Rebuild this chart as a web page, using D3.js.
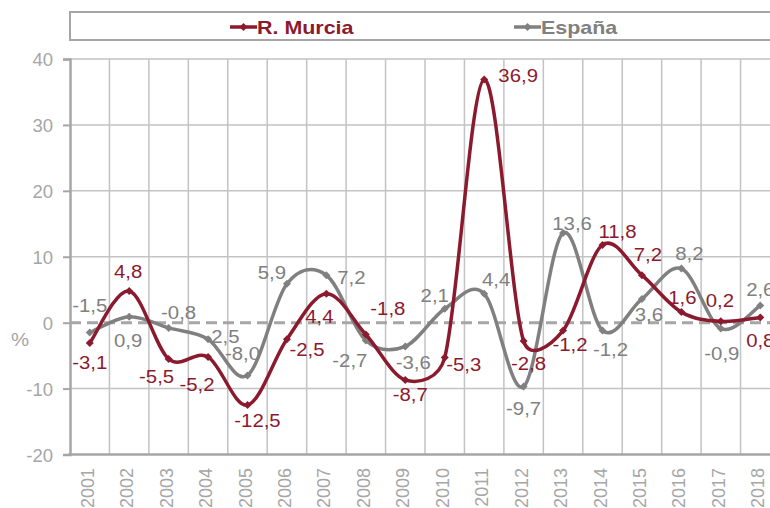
<!DOCTYPE html>
<html>
<head>
<meta charset="utf-8">
<script src="https://cdn.jsdelivr.net/npm/d3@7"></script>
<style>
  html, body { margin: 0; padding: 0; background: #fff; }
  svg { display: block; }
  text { font-family: "Liberation Sans", Arial, sans-serif; }
</style>
</head>
<body>
<svg id="chart" width="770" height="508"></svg>
<script>
// ---- data ----
const years = ["2001","2002","2003","2004","2005","2006","2007","2008","2009","2010","2011","2012","2013","2014","2015","2016","2017","2018"];
const murcia = [-3.1, 4.8, -5.5, -5.2, -12.5, -2.5, 4.4, -1.8, -8.7, -5.3, 36.9, -2.8, -1.2, 11.8, 7.2, 1.6, 0.2, 0.8];
const espana = [-1.5, 0.9, -0.8, -2.5, -8.0, 5.9, 7.2, -2.7, -3.6, 2.1, 4.4, -9.7, 13.6, -1.2, 3.6, 8.2, -0.9, 2.6];
const yTicks = [-20, -10, 0, 10, 20, 30, 40];
const seriesNames = ["R. Murcia", "España"];

// label placement (offset of label centre from its point)
const murciaLabelOffset = [[0,19],[-1,-20],[-12,17],[-11,27],[10,15],[20,10],[-7,23],[22,-26],[5,14],[19,7],[34,-4],[5,22],[7,14],[15,-13],[6,-21],[1,-15],[-1,-21],[0,23]];
const espanaLabelOffset = [[0,-27],[-1,24],[10,-16],[14,-3],[-5,-22],[-15,-11],[25,2],[-16,20],[8,16],[-10,-13],[12,-14],[0,22],[9,-10],[8,19],[7,15],[8,-15],[1,25],[0,-16]];

// ---- styles ----
const RED = "#8C1A2E";
const GREY = "#808080";
const AXIS = "#A6A6A6";
const GRID = "#C3C3C3";
const FS = 18.5;
const SX = 1.1;

const svg = d3.select("#chart");

const x = d3.scaleBand().domain(years).range([70, 780]);
const y = d3.scaleLinear().domain([-20, 40]).range([454.5, 59]);
const cx = d => x(d) + x.bandwidth() / 2;

const fmt = v => v.toFixed(1).replace(".", ",");

// Excel-like smoothed line: Catmull-Rom (1/6) arms, each capped at half the segment length
function smoothPath(pts) {
  const p = d3.path();
  const n = pts.length;
  p.moveTo(pts[0][0], pts[0][1]);
  const dist = (a, b) => Math.hypot(b[0] - a[0], b[1] - a[1]);
  for (let i = 0; i < n - 1; i++) {
    const P0 = pts[Math.max(0, i - 1)], P1 = pts[i], P2 = pts[i + 1], P3 = pts[Math.min(n - 1, i + 2)];
    const d12 = dist(P1, P2);
    let a1 = [(P2[0] - P0[0]) / 6, (P2[1] - P0[1]) / 6];
    let a2 = [(P3[0] - P1[0]) / 6, (P3[1] - P1[1]) / 6];
    const l1 = Math.hypot(a1[0], a1[1]), l2 = Math.hypot(a2[0], a2[1]);
    if (l1 > d12 / 2) { const s = (d12 / 2) / l1; a1 = [a1[0] * s, a1[1] * s]; }
    if (l2 > d12 / 2) { const s = (d12 / 2) / l2; a2 = [a2[0] * s, a2[1] * s]; }
    p.bezierCurveTo(P1[0] + a1[0], P1[1] + a1[1], P2[0] - a2[0], P2[1] - a2[1], P2[0], P2[1]);
  }
  return p.toString();
}

// horizontal grid
svg.append("g").selectAll("line")
  .data(yTicks.filter(t => t !== 0 && t !== -20))
  .join("line")
  .attr("x1", 70).attr("x2", 780)
  .attr("y1", d => y(d)).attr("y2", d => y(d))
  .attr("stroke", GRID).attr("stroke-width", 1.5);

// vertical grid (band boundaries)
svg.append("g").selectAll("line")
  .data(years)
  .join("line")
  .attr("x1", d => x(d) + x.step())
  .attr("x2", d => x(d) + x.step())
  .attr("y1", y(40)).attr("y2", y(-20))
  .attr("stroke", GRID).attr("stroke-width", 1.5);

// zero dashed line
svg.append("line")
  .attr("x1", 70).attr("x2", 780)
  .attr("y1", y(0)).attr("y2", y(0))
  .attr("stroke", AXIS).attr("stroke-width", 3)
  .attr("stroke-dasharray", "11,6");

// y axis
const yAxis = d3.axisLeft(y).tickValues(yTicks).tickSize(7).tickPadding(10).tickFormat(d => d);
const ga = svg.append("g").attr("transform", "translate(70,0)").call(yAxis);
ga.select(".domain").attr("stroke", AXIS).attr("stroke-width", 2.5);
ga.selectAll(".tick line").attr("stroke", AXIS).attr("stroke-width", 2);
ga.selectAll(".tick text")
  .attr("fill", AXIS).attr("font-size", FS)
  .attr("font-family", "Liberation Sans, Arial, sans-serif")
  .attr("dy", "0.36em");

// x axis line
svg.append("line")
  .attr("x1", 68.5).attr("x2", 780)
  .attr("y1", y(-20)).attr("y2", y(-20))
  .attr("stroke", AXIS).attr("stroke-width", 2.5);

// x labels (rotated)
svg.append("g").selectAll("text")
  .data(years)
  .join("text")
  .attr("transform", d => `translate(${cx(d) + 4},468) rotate(-90)`)
  .attr("text-anchor", "end")
  .attr("font-size", 18)
  .attr("fill", AXIS)
  .text(d => d);

// % label
svg.append("text")
  .attr("transform", "translate(20,346) scale(1.1,1)")
  .attr("text-anchor", "middle")
  .attr("font-size", FS)
  .attr("fill", AXIS)
  .text("%");

const series = [
  { name: seriesNames[1], values: espana, color: GREY, off: espanaLabelOffset },
  { name: seriesNames[0], values: murcia, color: RED, off: murciaLabelOffset }
];

const diamond = (px, py, r) => `M${px},${py - r}L${px + r},${py}L${px},${py + r}L${px - r},${py}Z`;

series.forEach(s => {
  const pts = s.values.map((v, i) => [cx(years[i]), y(v)]);
  svg.append("path")
    .attr("d", smoothPath(pts))
    .attr("fill", "none")
    .attr("stroke", s.color)
    .attr("stroke-width", 3.5)
    .attr("stroke-linejoin", "round");
  svg.append("g").selectAll("path")
    .data(s.values)
    .join("path")
    .attr("d", (d, i) => diamond(cx(years[i]), y(d), 4))
    .attr("fill", s.color);
});

// data labels
series.forEach(s => {
  svg.append("g").selectAll("text")
    .data(s.values)
    .join("text")
    .attr("transform", (d, i) => `translate(${cx(years[i]) + s.off[i][0]},${y(d) + s.off[i][1] + 6.6}) scale(${SX},1)`)
    .attr("text-anchor", "middle")
    .attr("font-size", FS)
    .attr("fill", s.color)
    .text(d => fmt(d));
});

// legend
svg.append("rect")
  .attr("x", 70).attr("y", 12).attr("width", 720).attr("height", 28)
  .attr("fill", "#fff").attr("stroke", AXIS).attr("stroke-width", 2);

const legendItems = [
  { name: seriesNames[0], color: RED, x0: 230, x1: 257 },
  { name: seriesNames[1], color: GREY, x0: 514, x1: 541 }
];
legendItems.forEach(it => {
  svg.append("line")
    .attr("x1", it.x0).attr("x2", it.x1)
    .attr("y1", 27).attr("y2", 27)
    .attr("stroke", it.color).attr("stroke-width", 3.5);
  svg.append("path")
    .attr("d", diamond((it.x0 + it.x1) / 2, 27, 4))
    .attr("fill", it.color);
  svg.append("text")
    .attr("transform", `translate(${it.x1},34) scale(1.16,1)`)
    .attr("font-size", FS)
    .attr("font-weight", "bold")
    .attr("fill", it.color)
    .text(it.name);
});
</script>
</body>
</html>
